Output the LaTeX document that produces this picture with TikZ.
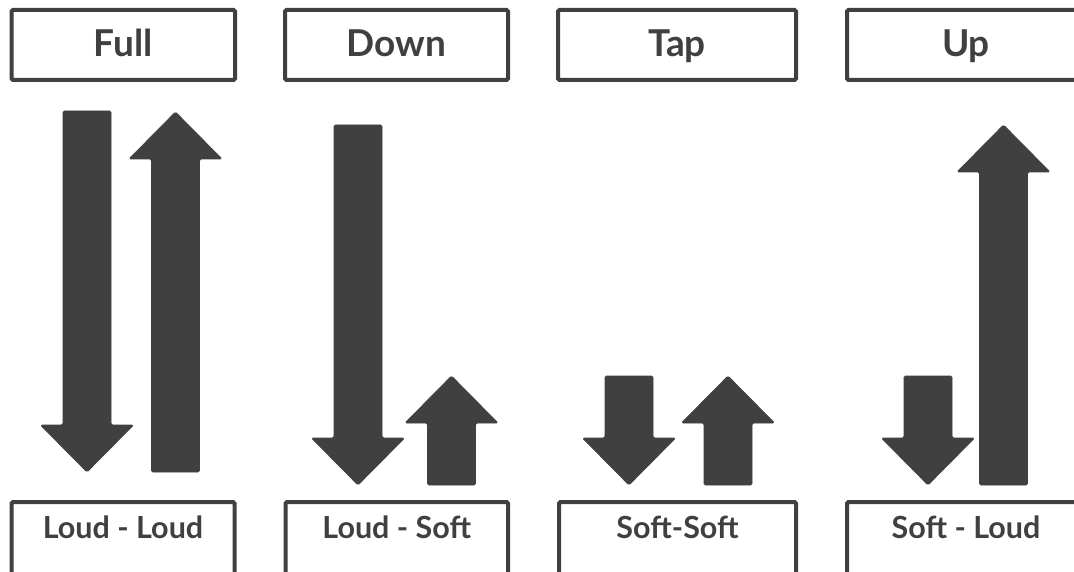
\documentclass[tikz,border=0pt]{standalone}
\usepackage{fontspec}
\setmainfont{Lato}
\definecolor{ink}{HTML}{404040}
% arrow glyphs: shaft half-width 24, head half-width 46.5, head height 47
\newcommand\dnarrowpath[3]{% centre x, top of shaft, tip
  ({#1-24},#2) -- ({#1+24},#2) -- ({#1+24},{#3-47}) -- ({#1+46.5},{#3-47})
  -- (#1,#3) -- ({#1-46.5},{#3-47}) -- ({#1-24},{#3-47}) -- cycle}
\newcommand\uparrowpath[3]{% centre x, tip, bottom of shaft
  (#1,#2) -- ({#1+46.5},{#2+47}) -- ({#1+24},{#2+47}) -- ({#1+24},#3)
  -- ({#1-24},#3) -- ({#1-24},{#2+47}) -- ({#1-46.5},{#2+47}) -- cycle}
\tikzset{
  titlebox/.style={draw=ink, line width=4pt, rounded corners=1.5pt, fill=white,
    text height=46.7pt, text depth=23.3pt, inner sep=0pt, text=ink,
    font=\bfseries\fontsize{37}{42}\selectfont},
  footbox/.style={draw=ink, line width=4pt, rounded corners=1.5pt, fill=white,
    minimum height=90pt, inner sep=0pt, anchor=north},
  footlabel/.style={text=ink, inner sep=0pt, anchor=base,
    font=\bfseries\fontsize{30.5}{34}\selectfont},
  glyph/.style={fill=ink, draw=ink, line width=0.8pt, rounded corners=1.5pt}
}
\begin{document}
\begin{tikzpicture}[x=1pt, y=-1pt]
  \useasboundingbox (0,0) rectangle (1074,572);
  \clip (0,0) rectangle (1074,572);
  \fill[white] (0,0) rectangle (1074,572);

  % column headings
  \node[titlebox, minimum width=223.5pt] (t1) at (123.25,45) {Full};
  \node[titlebox, minimum width=223pt]   (t2) at (396.5,45)  {Down};
  \node[titlebox, minimum width=238pt]   (t3) at (677,45)    {Tap};
  \node[titlebox, minimum width=238pt]   (t4) at (966,45)    {Up};

  % strokes
  \fill[glyph] \dnarrowpath{87}{111}{472};
  \fill[glyph] \uparrowpath{175.5}{112}{472};

  \fill[glyph] \dnarrowpath{358}{125}{485};
  \fill[glyph] \uparrowpath{451.5}{376}{485};

  \fill[glyph] \dnarrowpath{629}{376}{485};
  \fill[glyph] \uparrowpath{728}{376}{485};

  \fill[glyph] \dnarrowpath{928}{376}{485};
  \fill[glyph] \uparrowpath{1003.5}{125}{485};

  % dynamics boxes
  \node[footbox, minimum width=223pt] (b1) at (123,500) {};
  \node[footbox, minimum width=222.5pt] (b2) at (396.75,500) {};
  \node[footbox, minimum width=237pt] (b3) at (677.5,500) {};
  \node[footbox, minimum width=238pt] (b4) at (966,500) {};
  \node[footlabel] (l1) at ([yshift=-38pt]b1.north) {Loud - Loud};
  \node[footlabel] (l2) at ([yshift=-38pt]b2.north) {Loud - Soft};
  \node[footlabel] (l3) at ([yshift=-38pt]b3.north) {Soft-Soft};
  \node[footlabel] (l4) at ([yshift=-38pt]b4.north) {Soft - Loud};
\end{tikzpicture}
\end{document}
